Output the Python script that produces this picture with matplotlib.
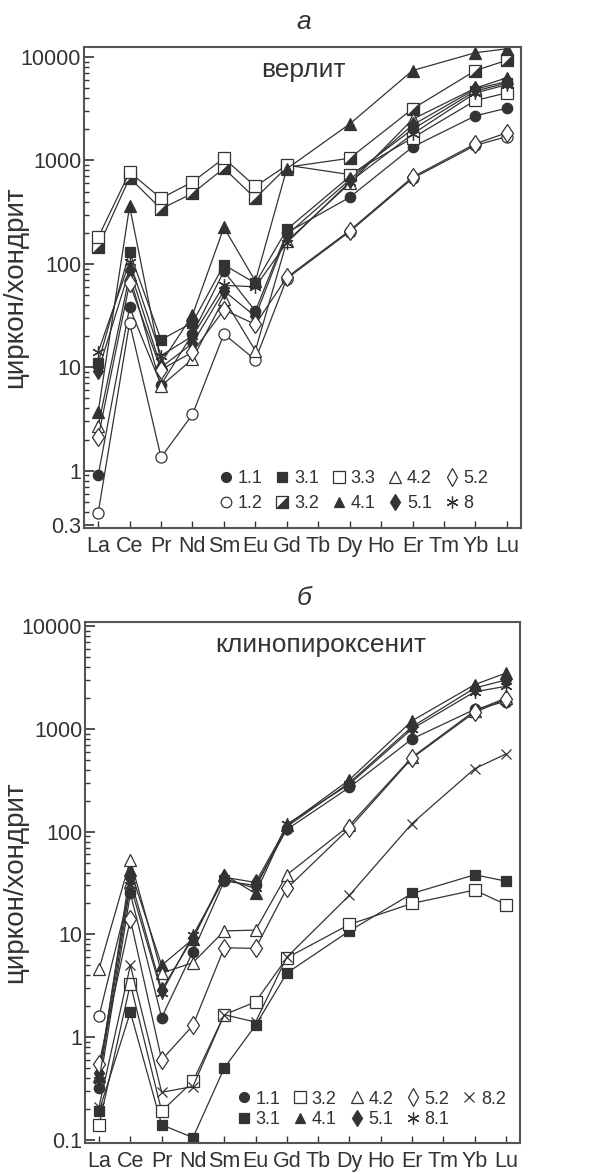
import matplotlib
matplotlib.use('Agg')
import matplotlib.pyplot as plt
import matplotlib.ticker as mticker
from matplotlib.lines import Line2D
from matplotlib.path import Path
from matplotlib.legend_handler import HandlerTuple

elements = ['La', 'Ce', 'Pr', 'Nd', 'Sm', 'Eu', 'Gd', 'Tb', 'Dy', 'Ho', 'Er', 'Tm', 'Yb', 'Lu']
N = None

# а - верлит
a_names = ['1.1', '1.2', '3.1', '3.2', '3.3', '4.1', '4.2', '5.1', '5.2', '8']
a_11 = [0.9, 38, 6.8, 21, 85, 35, 200, N, 440, N, 1350, N, 2700, 3200]
a_12 = [0.39, 27, 1.35, 3.5, 21, 11.8, 72, N, 205, N, 670, N, 1400, 1700]
a_31 = [11, 130, 18.5, 27, 98, 65, 215, N, 700, N, 2000, N, 4700, 5600]
a_32 = [145, 680, 340, 480, 840, 430, 860, N, 1050, N, 3150, N, 7400, 9300]
a_33 = [180, 770, 430, 620, 1050, 560, 900, N, 730, N, 1650, N, 3800, 4500]
a_41 = [3.7, 360, 11, 32, 225, 68, 830, N, 2250, N, 7400, N, 11000, 12000]
a_42 = [2.7, 78, 6.6, 12, 46, 14.5, 165, N, 600, N, 2500, N, 5000, 6300]
a_51 = [9.2, 88, 10, 17, 55, 31, 190, N, 650, N, 2200, N, 4900, 5800]
a_52 = [2.1, 65, 9.5, 14, 36, 26, 74, N, 210, N, 690, N, 1450, 1850]
a_8 = [14, 105, 13, 20, 62, 60, 160, N, 620, N, 1800, N, 4500, 5400]
a_data = [a_11, a_12, a_31, a_32, a_33, a_41, a_42, a_51, a_52, a_8]

# б - клинопироксенит
b_names = ['1.1', '3.1', '3.2', '4.1', '4.2', '5.1', '5.2', '8.1', '8.2']
b_11 = [0.32, 25, 1.55, 6.8, 33, 30, 105, N, 270, N, 800, N, 1550, 1850]
b_31 = [0.19, 1.75, 0.14, 0.105, 0.5, 1.3, 4.2, N, 10.8, N, 25, N, 38, 33]
b_32 = [0.14, 3.3, 0.19, 0.37, 1.65, 2.2, 5.9, N, 12.5, N, 20, N, 27, 19.5]
b_41 = [0.42, 42, 5.0, 9.0, 38, 25, 115, N, 320, N, 1200, N, 2700, 3500]
b_42 = [4.6, 53, 4.2, 5.3, 10.8, 11, 38, N, 115, N, 530, N, 1500, 2000]
b_51 = [0.45, 35, 2.9, 9.2, 36, 32, 112, N, 300, N, 1050, N, 2500, 3000]
b_52 = [0.55, 14, 0.6, 1.3, 7.4, 7.3, 28, N, 108, N, 520, N, 1450, 1950]
b_81 = [0.38, 30, 2.7, 9.8, 35, 28, 118, N, 290, N, 1000, N, 2300, 2600]
b_82 = [0.21, 5.0, 0.29, 0.33, 1.65, 1.4, 6.0, N, 24, N, 120, N, 410, 570]
b_data = [b_11, b_31, b_32, b_41, b_42, b_51, b_52, b_81, b_82]
# open circle at La in panel б (not in legend)
b_extra = [1.6, 28, N, N, N, N, N, N, N, N, N, N, N, N]

LC = '#333333'
half = Path([(-1, -1), (1, -1), (1, 1), (-1, -1)], closed=True)
aster = (6, 2, 0)

# marker, size, filled
styles = {
    '1.1': ('o', 7.5, True), '1.2': ('o', 8, False),
    '3.1': ('s', 7.5, True), '3.2': ('s', 8.5, False), '3.3': ('s', 8.5, False),
    '4.1': ('^', 8, True), '4.2': ('^', 8.5, False),
    '5.1': ('d', 8.5, True), '5.2': ('d', 9.5, False),
    '8': (aster, 9, True), '8.1': (aster, 9, True), '8.2': ('x', 7, True),
}

plt.rcParams['font.family'] = ['Liberation Sans', 'DejaVu Sans']

fig = plt.figure(figsize=(6.15, 11.74), dpi=100)
ax1 = fig.add_axes([0.1366, 0.5503, 0.7106, 0.4097])
ax2 = fig.add_axes([0.1382, 0.0264, 0.7073, 0.4438])


def draw(ax, vals, name, halffill=False):
    xs = [i for i, v in enumerate(vals) if v is not None]
    ys = [v for v in vals if v is not None]
    m, ms, filled = styles[name]
    ax.plot(xs, ys, color=LC, lw=0.9, marker=m, ms=ms,
            mfc=LC if filled else 'white', mec=LC, mew=0.9)
    if halffill:
        ax.plot(xs, ys, ls='none', marker=half, ms=ms, mfc=LC, mec=LC, mew=0.5)


def handle(name, halffill=False):
    m, ms, filled = styles[name]
    h = Line2D([], [], ls='none', marker=m, ms=ms * 0.95,
               mfc=LC if filled else 'white', mec=LC, mew=0.9)
    if halffill:
        h2 = Line2D([], [], ls='none', marker=half, ms=ms * 0.95, mfc=LC, mec=LC, mew=0.5)
        return (h, h2)
    return h


def setup(ax, ylim, yticks, ylabels, label_x):
    ax.set_yscale('log')
    ax.set_ylim(*ylim)
    ax.set_xlim(-0.45, 13.45)
    ax.set_xticks(range(len(elements)))
    ax.set_xticklabels(elements)
    ax.set_yticks(yticks)
    ax.set_yticklabels(ylabels)
    ax.yaxis.set_minor_locator(mticker.LogLocator(base=10, subs=range(2, 10), numticks=20))
    ax.yaxis.set_minor_formatter(mticker.NullFormatter())
    ax.tick_params(axis='y', which='major', direction='in', length=7, width=1.2,
                   pad=2, labelsize=15.5, colors=LC)
    ax.tick_params(axis='y', which='minor', direction='in', length=3.5, width=1, colors=LC)
    ax.tick_params(axis='x', which='major', direction='in', length=5, width=1,
                   pad=6, labelsize=15.5, colors=LC)
    ax.tick_params(axis='x', which='minor', bottom=False)
    for s in ax.spines.values():
        s.set_linewidth(1.5)
        s.set_color('#555555')
    ax.set_ylabel('циркон/хондрит', fontsize=20, color=LC)
    ax.yaxis.set_label_coords(label_x, 0.5)


# half-filled square only for 3.2 in panel а
for vals, name in zip(a_data, a_names):
    draw(ax1, vals, name, halffill=(name == '3.2'))
setup(ax1, (0.28, 12500), [0.3, 1, 10, 100, 1000, 10000],
      ['0.3', '1', '10', '100', '1000', '10000'], -0.128)
ax1.text(0.503, 0.952, 'верлит', transform=ax1.transAxes, ha='center', va='center',
         fontsize=19, color=LC)
ax1.legend([handle(n, n == '3.2') for n in a_names], a_names, ncol=5, frameon=False,
           loc='lower left', bbox_to_anchor=(0.31, 0.033), fontsize=13,
           handlelength=0.7, handletextpad=0.3, columnspacing=0.75,
           labelspacing=0.42, borderpad=0, borderaxespad=0,
           handler_map={tuple: HandlerTuple(ndivide=1)}, labelcolor=LC)

draw(ax2, b_extra, '1.2')
for vals, name in zip(b_data, b_names):
    draw(ax2, vals, name)
setup(ax2, (0.093, 11000), [0.1, 1, 10, 100, 1000, 10000],
      ['0.1', '1', '10', '100', '1000', '10000'], -0.131)
ax2.text(0.542, 0.956, 'клинопироксенит', transform=ax2.transAxes, ha='center', va='center',
         fontsize=19, color=LC)
ax2.legend([handle(n) for n in b_names], b_names, ncol=5, frameon=False,
           loc='lower left', bbox_to_anchor=(0.35, 0.028), fontsize=13,
           handlelength=0.7, handletextpad=0.3, columnspacing=0.75,
           labelspacing=0.2, borderpad=0, borderaxespad=0,
           handler_map={tuple: HandlerTuple(ndivide=1)}, labelcolor=LC)

fig.text(0.494, 0.981, 'а', style='italic', fontsize=19, ha='center', va='center', color=LC)
fig.text(0.494, 0.491, 'б', style='italic', fontsize=19, ha='center', va='center', color=LC)

fig.savefig('out.png', dpi=100)
